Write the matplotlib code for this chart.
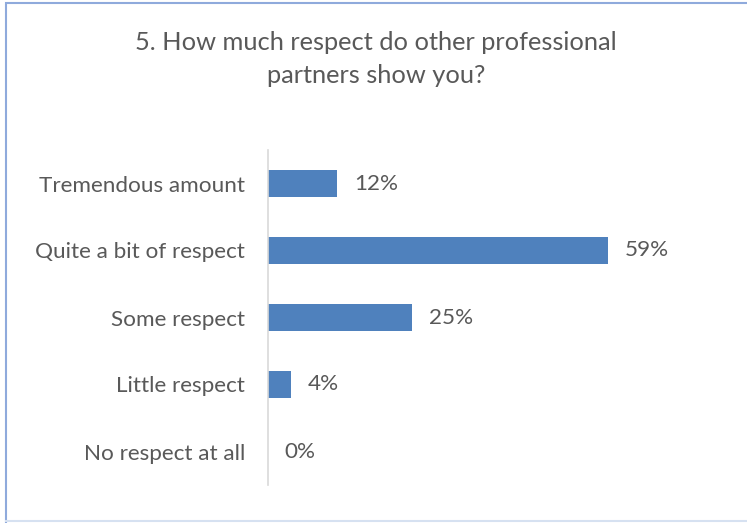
import matplotlib.pyplot as plt
from matplotlib.patches import Rectangle
from matplotlib.lines import Line2D

# survey answers, top to bottom
categories = ['Tremendous amount', 'Quite a bit of respect', 'Some respect',
              'Little respect', 'No respect at all']
values = [12, 59, 25, 4, 0]
title = '5. How much respect do other professional\npartners show you?'

bar_color = '#4F81BD'
text_color = '#595959'
font = 'Lato'

fig = plt.figure(figsize=(7.47, 5.23), dpi=100)

# plot area: axis line at x=268px, rows from y~150 to y~485
W, H = 747, 523
left, right = 268 / W, 720 / W
top, bottom = 1 - 150 / H, 1 - 485 / H
ax = fig.add_axes([left, bottom, right - left, top - bottom])

ypos = list(range(len(categories)))
ax.barh(ypos, values, height=0.39, color=bar_color)
ax.set_ylim(len(categories) - 0.5, -0.5)
# 59% ends at x=608px
ax.set_xlim(0, 59 * (720 - 268) / (608 - 268))

ax.set_yticks(ypos)
ax.set_yticklabels(categories, fontsize=16.2, color=text_color, family=font)
ax.tick_params(axis='y', length=0, pad=16.5)
ax.set_xticks([])

for s in ['top', 'right', 'bottom']:
    ax.spines[s].set_visible(False)
ax.spines['left'].set_color('#D9D9D9')
ax.spines['left'].set_linewidth(1.2)

for y, v in zip(ypos, values):
    ax.annotate(f'{v}%', xy=(v, y), xytext=(12, 0), textcoords='offset points',
                va='center', ha='left', fontsize=16.2, color=text_color,
                family=font)

fig.text(376 / W, 1 - 59 / H, title, ha='center', va='center', fontsize=18.3,
         color=text_color, family=font, linespacing=1.5)

# chart frame: left and top edges, faint bottom edge
fig.patches.append(Rectangle((5.5 / W, -0.02), 1.1, 1 - 2.5 / H + 0.02,
                             transform=fig.transFigure, fill=False,
                             edgecolor='#8FAADC', linewidth=1.5))
fig.lines.append(Line2D([5.5 / W, 1], [1 - 521 / H] * 2, transform=fig.transFigure,
                        color='#D6E1F1', linewidth=1.5))

fig.savefig('out.png', dpi=100)
